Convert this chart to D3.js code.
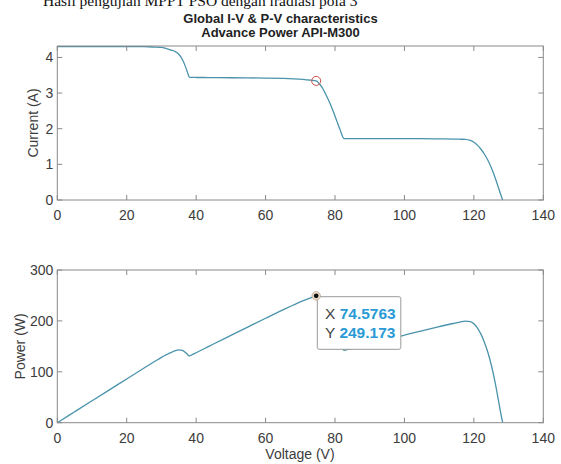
<!DOCTYPE html>
<html><head><meta charset="utf-8">
<script src="https://cdn.jsdelivr.net/npm/d3@7"></script>
<style>
html,body{margin:0;padding:0;background:#fff;}
svg{display:block;}
</style></head>
<body>
<script>
// ---- data ----
const voltage = [0,5,10,15,20,25,28,30,31,32,33,34,35,36,37,37.5,38.1,39,40,42,45,50,55,60,65,68,70,72,73,74.5763,75.5,76.5,77.5,78.5,79.5,80.5,81.5,82.6,83.5,85,90,95,100,105,110,114,116,117.5,119,120,121,122,123,124,125,126,127,127.7,128.3];
const current = [4.30,4.30,4.30,4.30,4.30,4.30,4.29,4.28,4.26,4.23,4.20,4.16,4.09,3.95,3.72,3.58,3.44,3.438,3.437,3.436,3.435,3.43,3.425,3.42,3.41,3.40,3.39,3.37,3.36,3.341,3.26,3.12,2.93,2.72,2.48,2.22,1.96,1.72,1.72,1.72,1.72,1.72,1.72,1.72,1.715,1.71,1.705,1.70,1.67,1.62,1.54,1.43,1.29,1.12,0.91,0.66,0.37,0.16,0];
const power = [0,21.5,43.0,64.5,86.0,107.5,120.1,128.4,132.1,135.4,138.6,141.4,143.2,142.2,137.6,134.3,131.1,134.1,137.5,144.3,154.6,171.5,188.4,205.2,221.7,231.2,237.3,242.6,245.3,249.173,246.1,238.7,227.1,213.5,197.2,178.7,159.7,142.1,143.6,146.2,154.8,163.4,172.0,180.6,188.7,194.9,197.8,199.75,198.7,194.4,186.3,174.5,158.7,138.9,113.8,83.2,47.0,20.4,0];
const xTicks = [0,20,40,60,80,100,120,140];
const iTicks = [0,1,2,3,4];
const pTicks = [0,100,200,300];
const mpp = {v:74.5763, i:3.341, p:249.173};
const headerText = "Hasil pengujian MPPT PSO dengan iradiasi pola 3";
const titleLines = ["Global I-V & P-V characteristics","Advance Power API-M300"];

// ---- layout ----
const W=561,H=464;
const svg=d3.select("body").append("svg").attr("width",W).attr("height",H);
const L=57.3,R=543.3;
const x=d3.scaleLinear().domain([0,140]).range([L,R]);
const yI=d3.scaleLinear().domain([0,4.32]).range([200,46]);
const yP=d3.scaleLinear().domain([0,300]).range([422.7,270]);
const axisCol="#8a8a8a", textCol="#3c3c3c", lineCol="#4a93ab";
const font="'Liberation Sans', Arial, Helvetica, sans-serif";

svg.append("text").attr("x",43).attr("y",6).attr("font-family","'Liberation Serif','Times New Roman',serif")
  .attr("font-size",15.5).attr("fill","#111").text(headerText);
titleLines.forEach((t,k)=>{
  svg.append("text").attr("x",280.5).attr("y",22.5+k*14.8).attr("text-anchor","middle")
    .attr("font-family",font).attr("font-weight","bold").attr("font-size",13).attr("fill","#222").text(t);
});

function panel(y, yTicks, yLabel, labelX, series, bottomPad){
  const g=svg.append("g");
  const [y0,y1]=y.range();
  const pts=voltage.map((v,k)=>[v,series[k]]);
  g.append("path").datum(pts).attr("fill","none").attr("stroke",lineCol).attr("stroke-width",1.3)
    .attr("d",d3.line().x(d=>x(d[0])).y(d=>y(d[1])).curve(d3.curveMonotoneX));
  g.append("rect").attr("x",L).attr("y",y1).attr("width",R-L).attr("height",y0-y1)
    .attr("fill","none").attr("stroke",axisCol).attr("stroke-width",1);
  const tl=5;
  xTicks.forEach(t=>{
    g.append("line").attr("x1",x(t)).attr("x2",x(t)).attr("y1",y0).attr("y2",y0-tl).attr("stroke",axisCol);
    g.append("line").attr("x1",x(t)).attr("x2",x(t)).attr("y1",y1).attr("y2",y1+tl).attr("stroke",axisCol);
    g.append("text").attr("x",x(t)).attr("y",y0+bottomPad).attr("text-anchor","middle")
      .attr("font-family",font).attr("font-size",14).attr("fill",textCol).text(t);
  });
  yTicks.forEach(t=>{
    g.append("line").attr("x1",L).attr("x2",L+tl).attr("y1",y(t)).attr("y2",y(t)).attr("stroke",axisCol);
    g.append("line").attr("x1",R).attr("x2",R-tl).attr("y1",y(t)).attr("y2",y(t)).attr("stroke",axisCol);
    g.append("text").attr("x",L-4).attr("y",y(t)+5).attr("text-anchor","end")
      .attr("font-family",font).attr("font-size",14).attr("fill",textCol).text(t);
  });
  g.append("text").attr("transform",`translate(${labelX},${(y0+y1)/2}) rotate(-90)`).attr("text-anchor","middle")
    .attr("font-family",font).attr("font-size",14).attr("fill",textCol).text(yLabel);
  return g;
}
panel(yI,iTicks,"Current (A)",38,current,20);
panel(yP,pTicks,"Power (W)",25,power,20);

// MPP marker on I-V
svg.append("circle").attr("cx",x(mpp.v)).attr("cy",yI(mpp.i)).attr("r",4.5)
  .attr("fill","none").attr("stroke","#c8504a").attr("stroke-width",1);

// datatip on P-V
const bx=317.3, by=296.7, bw=83.5, bh=52.6;
svg.append("rect").attr("x",bx).attr("y",by).attr("width",bw).attr("height",bh).attr("rx",2)
  .attr("fill","#fff").attr("stroke","#9a9a9a").attr("stroke-width",1);
[["X ","74.5763",319],["Y ","249.173",337.5]].forEach(([a,b,yy])=>{
  const t=svg.append("text").attr("x",325).attr("y",yy).attr("font-family",font).attr("font-size",15.5);
  t.append("tspan").attr("fill","#444").text(a);
  t.append("tspan").attr("fill","#2a9ad6").attr("font-weight","bold").text(b);
});
svg.append("circle").attr("cx",x(mpp.v)).attr("cy",yP(mpp.p)).attr("r",4.2)
  .attr("fill","#f3e6d8").attr("stroke","#b89a80").attr("stroke-width",0.8);
svg.append("circle").attr("cx",x(mpp.v)).attr("cy",yP(mpp.p)).attr("r",2.4).attr("fill","#111");

svg.append("text").attr("x",300).attr("y",459).attr("text-anchor","middle")
  .attr("font-family",font).attr("font-size",14).attr("fill",textCol).text("Voltage (V)");
</script>
</body></html>
